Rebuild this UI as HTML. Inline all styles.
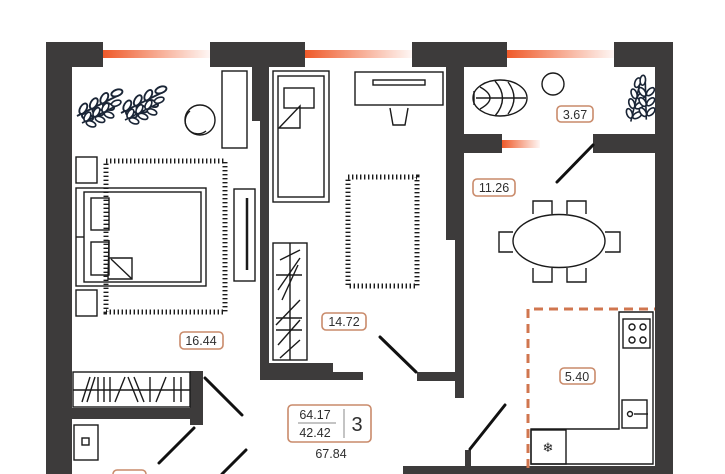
<!DOCTYPE html>
<html><head><meta charset="utf-8"><style>
html,body{margin:0;padding:0;background:#fff;}
svg{display:block}
text{font-family:"Liberation Sans",sans-serif;fill:#2e2e2e}
</style></head><body>
<svg width="725" height="474" viewBox="0 0 725 474" xmlns="http://www.w3.org/2000/svg">
<defs>
<linearGradient id="wg" x1="0" x2="1" y1="0" y2="0"><stop offset="0" stop-color="#ef5a2a"/><stop offset="1" stop-color="#ef5a2a" stop-opacity="0.05"/></linearGradient>
<g id="leafs" fill="#fff" stroke="#1a2536" stroke-width="1.8">
<path d="M0 20 L40 0"/>
<ellipse cx="6" cy="13" rx="5.5" ry="3" transform="rotate(-60 6 13)"/><ellipse cx="10" cy="21" rx="5.5" ry="3" transform="rotate(20 10 21)"/>
<ellipse cx="16" cy="8" rx="5.5" ry="3" transform="rotate(-60 16 8)"/><ellipse cx="20" cy="16" rx="5.5" ry="3" transform="rotate(20 20 16)"/>
<ellipse cx="26" cy="3" rx="5.5" ry="3" transform="rotate(-60 26 3)"/><ellipse cx="30" cy="11" rx="5.5" ry="3" transform="rotate(20 30 11)"/>
<ellipse cx="38" cy="-2" rx="5.5" ry="3" transform="rotate(-20 38 -2)"/>
</g>
</defs>
<g fill="#3d3b3b">
<rect x="46" y="42" width="26" height="432"/>
<rect x="46" y="42" width="57" height="25"/>
<rect x="210" y="42" width="95" height="25"/>
<rect x="252" y="67" width="17" height="54"/>
<rect x="260" y="67" width="9" height="313"/>
<rect x="260" y="363" width="73" height="17"/>
<rect x="333" y="372" width="30" height="8"/>
<rect x="412" y="42" width="95" height="25"/>
<rect x="446" y="67" width="18" height="173"/>
<rect x="455" y="240" width="9" height="158"/>
<rect x="417" y="372" width="47" height="9"/>
<rect x="446" y="134" width="56" height="19"/>
<rect x="593" y="134" width="62" height="19"/>
<rect x="614" y="42" width="59" height="25"/>
<rect x="655" y="42" width="18" height="432"/>
<rect x="403" y="466" width="270" height="8"/>
<rect x="465" y="450" width="6" height="20"/>
<rect x="72" y="408" width="128" height="11"/>
<rect x="190" y="371" width="13" height="54"/>
</g>
<rect x="103" y="50" width="107" height="8" fill="url(#wg)"/>
<rect x="305" y="50" width="107" height="8" fill="url(#wg)"/>
<rect x="507" y="50" width="107" height="8" fill="url(#wg)"/>
<rect x="502" y="140" width="38" height="8" fill="url(#wg)"/>
<!-- kitchen dashed zone -->
<path d="M528 468 L528 309 L655 309" fill="none" stroke="#d0764f" stroke-width="3" stroke-dasharray="9 6"/>
<g stroke="#111" stroke-width="3" stroke-linecap="round">
<line x1="593" y1="145" x2="557" y2="182"/>
<line x1="380" y1="337" x2="416" y2="372"/>
<line x1="505" y1="405" x2="470" y2="449"/>
<line x1="205" y1="378" x2="242" y2="415"/>
<line x1="194" y1="428" x2="159" y2="463"/>
<line x1="246" y1="450" x2="222" y2="474"/>
</g>
<g fill="none" stroke="#1a1a1a" stroke-width="1.4">
<rect x="222" y="71" width="25" height="77"/>
<circle cx="200" cy="120" r="15"/><path d="M190 111 A12 12 0 0 0 206 131"/>
<rect x="76" y="157" width="21" height="26"/>
<rect x="76" y="290" width="21" height="26"/>
<rect x="76" y="188" width="130" height="98"/>
<rect x="84" y="192" width="117" height="90"/>
<line x1="76" y1="237" x2="84" y2="237"/>
<rect x="91" y="198" width="18" height="32"/><rect x="91" y="242" width="18" height="33"/>
<path d="M109 240 L108 279 L132 279 L132 258 L109 258"/><path d="M111 259 L132 279"/>
<rect x="234" y="189" width="21" height="92"/><line x1="247" y1="198" x2="247" y2="270" stroke-width="2.5"/>
<rect x="273" y="71" width="56" height="131"/><rect x="278" y="76" width="46" height="121"/>
<rect x="284" y="88" width="30" height="20"/><path d="M279 128 L300 106 L300 128 Z"/>
<rect x="355" y="72" width="88" height="33"/><rect x="373" y="80" width="52" height="5"/>
<path d="M390 108 L393 125 L405 125 L408 108"/>
<rect x="273" y="243" width="34" height="117"/><line x1="290" y1="243" x2="290" y2="360"/>
<path d="M280 260 L300 250 M278 290 L300 258 M282 300 L298 265 M276 325 L300 300 M278 345 L300 320 M280 358 L300 340 M276 275 L302 275 M276 318 L302 318 M276 330 L302 330"/>
<rect x="73" y="372" width="117" height="35"/><line x1="73" y1="390" x2="190" y2="390"/>
<path d="M82 402 L90 377 M87 402 L95 377 M98 377 L98 402 M104 377 L104 402 M110 377 L110 402 M115 402 L125 377 M128 377 L138 402 M134 377 L144 402 M150 377 L150 402 M156 402 L166 377 M174 377 L174 402 M181 377 L181 402"/>
<rect x="74" y="425" width="24" height="35"/><rect x="82" y="438" width="7" height="7"/>
<ellipse cx="500" cy="98" rx="27" ry="18"/>
<path d="M480 87 Q500 98 480 109 M476 98 L526 98 M495 81 Q510 98 495 116 M508 82 Q520 98 508 114 M474 91 L474 105"/>
<circle cx="553" cy="84" r="11"/>
<ellipse cx="559" cy="241" rx="46" ry="26.5"/>
<path d="M533 214 L533 201 L552 201 L552 214 M567 214 L567 201 L586 201 L586 214 M533 268 L533 282 L552 282 L552 268 M567 268 L567 282 L586 282 L586 268 M513 232 L499 232 L499 252 L513 252 M605 232 L620 232 L620 252 L605 252"/>
<path d="M619 312 L653 312 L653 464 L531 464 L531 429 L619 429 Z"/>
<rect x="531" y="430" width="35" height="34"/>
<rect x="623" y="319" width="27" height="29"/>
<circle cx="632" cy="327" r="3"/><circle cx="643" cy="327" r="3"/><circle cx="632" cy="340" r="3"/><circle cx="643" cy="340" r="3"/>
<rect x="622" y="400" width="25" height="28"/><circle cx="630" cy="414" r="2.5"/><line x1="634" y1="414" x2="648" y2="414"/>
</g>
<text x="548" y="452" font-size="13" text-anchor="middle" style="fill:#222">❄</text>
<g fill="none" stroke="#1a1a1a" stroke-width="5" stroke-dasharray="1.4 2.6">
<rect x="106" y="161" width="119" height="151"/>
<rect x="348" y="177" width="69" height="109"/>
</g>
<use href="#leafs" transform="translate(77,95) scale(1.05)"/>
<use href="#leafs" transform="translate(82,105) scale(0.9)"/>
<use href="#leafs" transform="translate(121,92) scale(1.05)"/>
<use href="#leafs" transform="translate(125,102) scale(0.9)"/>
<use href="#leafs" transform="translate(617,110) rotate(-50) scale(0.9)"/>
<use href="#leafs" transform="translate(630,112) rotate(-65) scale(0.9)"/>
<g fill="#fff" stroke="#c98a6a" stroke-width="1.6">
<rect x="557" y="106" width="36" height="16" rx="4"/>
<rect x="473" y="179" width="42" height="17" rx="4"/>
<rect x="322" y="313" width="44" height="17" rx="4"/>
<rect x="180" y="332" width="43" height="17" rx="4"/>
<rect x="560" y="368" width="35" height="16" rx="4"/>
<rect x="288" y="405" width="83" height="37" rx="4"/>
<rect x="113" y="470" width="33" height="10" rx="4"/>
</g>
<g font-size="12.5" text-anchor="middle">
<text x="575" y="119">3.67</text>
<text x="494" y="192">11.26</text>
<text x="344" y="326">14.72</text>
<text x="201" y="345">16.44</text>
<text x="577" y="381">5.40</text>
<text x="315" y="419">64.17</text>
<text x="315" y="437">42.42</text>
<text x="331" y="458">67.84</text>
<text x="357" y="431" font-size="20">3</text>
</g>
<line x1="298" y1="423" x2="336" y2="423" stroke="#888" stroke-width="1"/>
<line x1="344" y1="409" x2="344" y2="438" stroke="#888" stroke-width="1"/>
</svg>
</body></html>
